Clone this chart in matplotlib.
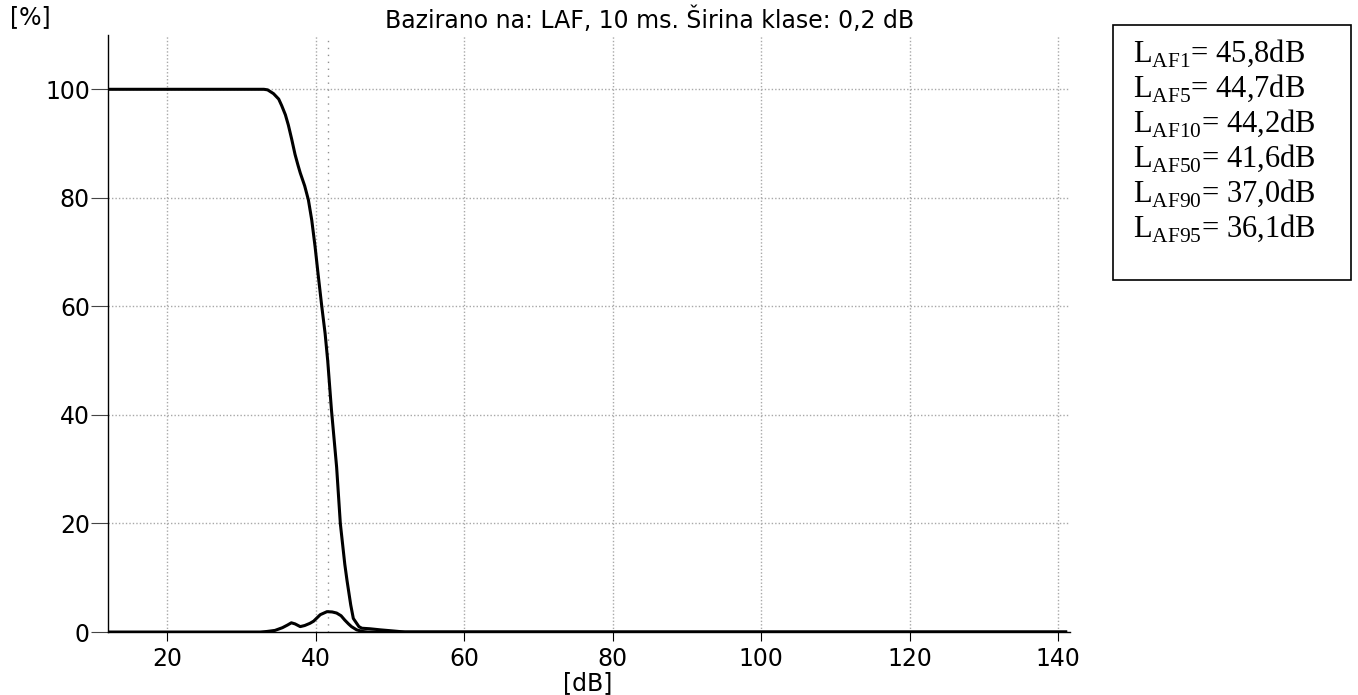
import matplotlib
matplotlib.use("Agg")
import matplotlib.pyplot as plt
from matplotlib.patches import Rectangle

# cumulative distribution [%] vs level [dB]
cum_db = [12.0, 33.0, 33.5, 34.3, 35.0, 35.4, 35.9, 36.3, 36.75, 37.2, 37.6, 37.9,
          38.5, 39.0, 39.45, 39.9, 40.3, 40.8, 41.25, 41.6, 42.1, 42.8, 43.3, 43.9,
          44.2, 44.7, 45.05, 45.8, 46.2, 47.3, 48.7, 50.4, 52.0, 141.0]
cum_pct = [100.0, 100.0, 99.9, 99.2, 98.2, 97.0, 95.3, 93.4, 90.8, 88.0, 86.0, 84.6,
           82.2, 79.6, 75.9, 71.0, 66.0, 60.0, 55.0, 50.0, 41.0, 30.4, 20.0, 12.5,
           9.5, 5.0, 2.5, 1.0, 0.7, 0.6, 0.4, 0.2, 0.0, 0.0]

# class distribution [%] vs level [dB]
dist_db = [12.0, 32.5, 33.4, 34.5, 35.5, 36.2, 36.7, 37.2, 37.9, 38.5, 39.2, 39.7,
           40.6, 41.5, 42.2, 42.8, 43.4, 43.9, 44.4, 44.8, 45.5, 46.3, 47.0, 141.0]
dist_pct = [0.0, 0.0, 0.1, 0.3, 0.8, 1.3, 1.7, 1.5, 1.0, 1.2, 1.6, 2.0,
            3.2, 3.75, 3.7, 3.5, 3.0, 2.2, 1.5, 1.0, 0.4, 0.1, 0.0, 0.0]

l50 = 41.6
x_ticks = [20, 40, 60, 80, 100, 120, 140]
y_ticks = [0, 20, 40, 60, 80, 100]

stat_names = ["AF1", "AF5", "AF10", "AF50", "AF90", "AF95"]
stat_values = ["45,8", "44,7", "44,2", "41,6", "37,0", "36,1"]

plt.rcParams["mathtext.fontset"] = "custom"
plt.rcParams["mathtext.rm"] = "Liberation Serif"

fig = plt.figure(figsize=(13.58, 6.95), dpi=100)
ax = fig.add_axes([0.0795, 0.0906, 0.7085, 0.859])

grid_kw = dict(color="#a8a8a8", linewidth=1.0, linestyle=(0, (1, 1.5)), zorder=1)
for xv in x_ticks:
    ax.axvline(xv, **grid_kw)
for yv in y_ticks[1:]:
    ax.axhline(yv, **grid_kw)
ax.axvline(l50, color="#909090", linewidth=1.0, linestyle=(0, (1, 4)), zorder=1)

ax.plot(cum_db, cum_pct, color="black", linewidth=2.2, zorder=3)
ax.plot(dist_db, dist_pct, color="black", linewidth=2.2, zorder=3)

ax.set_xlim(12, 141.6)
ax.set_ylim(0, 110)
ax.set_xticks(x_ticks)
ax.set_yticks(y_ticks)
ax.spines["top"].set_visible(False)
ax.spines["right"].set_visible(False)
ax.spines["left"].set_linewidth(1.0)
ax.spines["bottom"].set_linewidth(1.0)
ax.tick_params(axis="y", length=12, width=0.8, pad=1, labelsize=17, color="#444444")
ax.tick_params(axis="x", length=6.5, width=0.8, pad=4, labelsize=17)

fig.text(0.007, 0.975, "[%]", fontsize=17, ha="left", va="center")
fig.text(0.478, 0.971, "Bazirano na: LAF, 10 ms. Širina klase: 0,2 dB",
         fontsize=17, ha="center", va="center")
fig.text(0.433, 0.017, "[dB]", fontsize=17, ha="center", va="center")

# statistics box
fig.patches.append(Rectangle((0.8196, 0.597), 0.1753, 0.367, transform=fig.transFigure,
                             fill=False, edgecolor="black", linewidth=1.2))
for i, (nm, val) in enumerate(zip(stat_names, stat_values)):
    y_px = 62 + i * 35
    fig.text(0.834, 1 - y_px / 695, r"L$_{\mathrm{%s}}$= %sdB" % (nm, val),
             fontsize=22, family="Liberation Serif", ha="left", va="baseline")

fig.savefig("out.png", dpi=100)
